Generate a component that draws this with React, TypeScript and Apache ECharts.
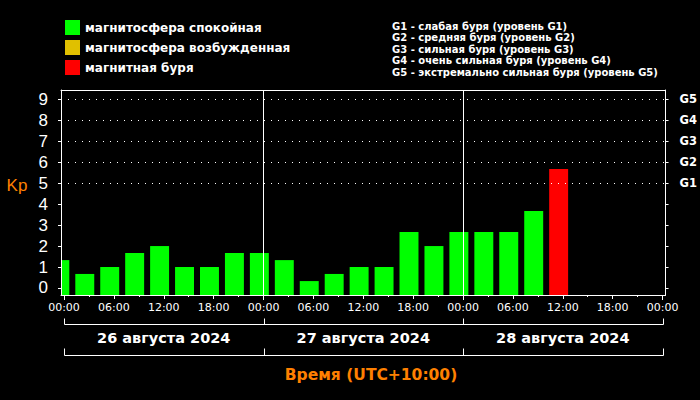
import React, { useEffect, useRef } from "react";
import * as echarts from "echarts";

// ---- data ----
const dayLabels = ["26 августа 2024", "27 августа 2024", "28 августа 2024"];
const hourTickLabels = [
  "00:00", "06:00", "12:00", "18:00",
  "00:00", "06:00", "12:00", "18:00",
  "00:00", "06:00", "12:00", "18:00",
  "00:00",
];
const kpLevelLabels = ["0", "1", "2", "3", "4", "5", "6", "7", "8", "9"];
const stormLabels = ["G1", "G2", "G3", "G4", "G5"];
const stormLegend = [
  "G1 - слабая буря (уровень G1)",
  "G2 - средняя буря (уровень G2)",
  "G3 - сильная буря (уровень G3)",
  "G4 - очень сильная буря (уровень G4)",
  "G5 - экстремально сильная буря (уровень G5)",
];
const stateLegendNames = [
  "магнитосфера спокойная",
  "магнитосфера возбужденная",
  "магнитная буря",
];
const stateColors = ["#00ff00", "#e0c000", "#ff0000"];
// bar centres, hours from 26 Aug 00:00 (UTC+10)
const barHours = [
  -0.5, 2.5, 5.5, 8.5, 11.5, 14.5, 17.5, 20.5,
  23.5, 26.5, 29.5, 32.5, 35.5, 38.5, 41.5, 44.5,
  47.5, 50.5, 53.5, 56.5, 59.5,
];
const kpValues = [
  1.33, 0.67, 1.0, 1.67, 2.0, 1.0, 1.0, 1.67,
  1.67, 1.33, 0.33, 0.67, 1.0, 1.0, 2.67, 2.0,
  2.67, 2.67, 2.67, 3.67, 5.67,
];
const dayBoundaries = [0, 24, 48, 72];
const dayCentres = [12, 36, 60];
const hourTicks6 = [0, 6, 12, 18, 24, 30, 36, 42, 48, 54, 60, 66, 72];
const hourTicks3 = [3, 9, 15, 21, 27, 33, 39, 45, 51, 57, 63, 69];
const kpTicks = [0, 1, 2, 3, 4, 5, 6, 7, 8, 9];
const stormLevels = [5, 6, 7, 8, 9];

const X_MIN = -0.36;
const X_MAX = 72.36;
const Y_MIN = -0.334;
const Y_MAX = 9.442;
const BAR_WIDTH_HOURS = 2.28;
const FONT = "DejaVu Sans";

function colorFor(kp: number) {
  if (kp >= 5) return stateColors[2];
  if (kp >= 4) return stateColors[1];
  return stateColors[0];
}

export default function App() {
  const ref = useRef<HTMLDivElement>(null);

  useEffect(() => {
    if (!ref.current) return;
    const chart = echarts.init(ref.current, null, { renderer: "svg" });

    const baseXAxis = {
      type: "value",
      min: X_MIN,
      max: X_MAX,
      splitLine: { show: false },
    };
    const whiteLine = { color: "#ffffff", width: 1 };

    const option: any = {
      animation: false,
      backgroundColor: "#000000",
      textStyle: { fontFamily: FONT },
      grid: { left: 61, top: 90, width: 606, height: 205, show: false },
      xAxis: [
        {
          ...baseXAxis,
          position: "bottom",
          axisLine: { show: true, onZero: false, lineStyle: whiteLine },
          axisTick: {
            show: true,
            length: 4,
            customValues: hourTicks6,
            lineStyle: { color: "#ffffff" },
          },
          axisLabel: {
            show: true,
            customValues: hourTicks6,
            formatter: (v: number) => hourTickLabels[Math.round(v / 6)],
            color: "#ffffff",
            fontSize: 11,
            fontFamily: FONT,
            margin: 7,
          },
        },
        {
          ...baseXAxis,
          position: "bottom",
          axisLine: { show: false, onZero: false },
          axisTick: {
            show: true,
            length: 2,
            customValues: hourTicks3,
            lineStyle: { color: "#ffffff" },
          },
          axisLabel: { show: false },
        },
        {
          ...baseXAxis,
          position: "bottom",
          axisLine: { show: false, onZero: false },
          axisTick: {
            show: true,
            length: 5,
            customValues: dayBoundaries,
            lineStyle: { color: "#ffffff" },
          },
          axisLabel: {
            show: true,
            customValues: dayCentres,
            formatter: (v: number) => dayLabels[Math.round((v - 12) / 24)],
            color: "#ffffff",
            fontSize: 14.5,
            fontWeight: "bold",
            fontFamily: FONT,
            margin: 35,
          },
        },
        {
          ...baseXAxis,
          position: "top",
          axisLine: { show: true, onZero: false, lineStyle: whiteLine },
          axisTick: { show: false },
          axisLabel: { show: false },
        },
      ],
      yAxis: [
        {
          type: "value",
          position: "left",
          min: Y_MIN,
          max: Y_MAX,
          splitLine: { show: false },
          axisLine: { show: true, onZero: false, lineStyle: whiteLine },
          axisTick: {
            show: true,
            length: 3,
            customValues: kpTicks,
            lineStyle: { color: "#ffffff" },
          },
          axisLabel: {
            show: true,
            customValues: kpTicks,
            formatter: (v: number) => kpLevelLabels[Math.round(v)],
            color: "#ffffff",
            fontSize: 17,
            fontFamily: "Liberation Sans",
            margin: 13,
          },
        },
        {
          type: "value",
          position: "right",
          min: Y_MIN,
          max: Y_MAX,
          splitLine: { show: false },
          axisLine: { show: true, onZero: false, lineStyle: whiteLine },
          axisTick: {
            show: true,
            length: 3,
            customValues: kpTicks,
            lineStyle: { color: "#ffffff" },
          },
          axisLabel: {
            show: true,
            customValues: stormLevels,
            formatter: (v: number) => stormLabels[Math.round(v) - 5],
            color: "#ffffff",
            fontSize: 11.5,
            fontWeight: "bold",
            fontFamily: FONT,
            margin: 14,
          },
        },
      ],
      series: [
        {
          type: "line",
          data: [],
          z: 1,
          xAxisIndex: 0,
          yAxisIndex: 0,
          markLine: {
            silent: true,
            symbol: ["none", "none"],
            label: { show: false },
            animation: false,
            data: [
              ...stormLevels.map((lv) => ({
                yAxis: lv,
                lineStyle: { color: "#ffffff", width: 1, type: [1, 6] },
              })),
              ...[24, 48].map((h) => ({
                xAxis: h,
                lineStyle: { color: "#ffffff", width: 1, type: "solid" },
              })),
            ],
          },
        },
        {
          type: "custom",
          z: 3,
          xAxisIndex: 0,
          yAxisIndex: 0,
          data: kpValues.map((v, i) => [barHours[i], v]),
          renderItem: (params: any, api: any) => {
            const h = api.value(0);
            const v = api.value(1);
            const top = api.coord([h, v]);
            const w = api.size([BAR_WIDTH_HOURS, 0])[0];
            const cs = params.coordSys;
            const bottom = cs.y + cs.height;
            const x0 = Math.max(top[0] - w / 2, cs.x + 1);
            const x1 = Math.min(top[0] + w / 2, cs.x + cs.width - 1);
            return {
              type: "rect",
              shape: { x: x0, y: top[1], width: x1 - x0, height: bottom - top[1] },
              style: { fill: colorFor(v) },
            };
          },
        },
      ],
      graphic: [],
    };

    chart.setOption(option);

    // decorations derived from the axis scale
    const px = (h: number) => chart.convertToPixel({ xAxisIndex: 0 }, h) as number;
    const dayPx = dayBoundaries.map(px);
    const graphics: any[] = [];
    const bracket = (y: number, tickLen: number) => {
      graphics.push({
        type: "line",
        shape: {
          x1: Math.round(dayPx[0]) + 0.5,
          y1: y,
          x2: Math.round(dayPx[dayPx.length - 1]) + 0.5,
          y2: y,
        },
        style: { stroke: "#ffffff", lineWidth: 1 },
      });
      dayPx.forEach((x) => {
        graphics.push({
          type: "line",
          shape: { x1: Math.round(x) + 0.5, y1: y - tickLen, x2: Math.round(x) + 0.5, y2: y },
          style: { stroke: "#ffffff", lineWidth: 1 },
        });
      });
    };
    bracket(324.5, 6);
    bracket(355.5, 7);

    stateLegendNames.forEach((name, i) => {
      graphics.push({
        type: "rect",
        shape: { x: 65, y: 20 + i * 20, width: 15, height: 15 },
        style: { fill: stateColors[i] },
      });
      graphics.push({
        type: "text",
        x: 85,
        y: 27.5 + i * 20,
        style: {
          text: name,
          fill: "#ffffff",
          font: `bold 12px "${FONT}"`,
          textVerticalAlign: "middle",
          verticalAlign: "middle",
        },
      });
    });

    stormLegend.forEach((t, i) => {
      graphics.push({
        type: "text",
        x: 392,
        y: 26 + i * 11.6,
        style: {
          text: t,
          fill: "#ffffff",
          font: `bold 10px "${FONT}"`,
          verticalAlign: "middle",
          textVerticalAlign: "middle",
        },
      });
    });

    graphics.push({
      type: "text",
      x: 17,
      y: 185,
      style: {
        text: "Kp",
        fill: "#ff8000",
        font: `17px "Liberation Sans"`,
        align: "center",
        textAlign: "center",
        verticalAlign: "middle",
        textVerticalAlign: "middle",
      },
    });

    graphics.push({
      type: "text",
      x: 371,
      y: 375,
      style: {
        text: "Время (UTC+10:00)",
        fill: "#ff8000",
        font: `bold 15.5px "${FONT}"`,
        align: "center",
        textAlign: "center",
        verticalAlign: "middle",
        textVerticalAlign: "middle",
      },
    });

    chart.setOption({ graphic: graphics });

    return () => chart.dispose();
  }, []);

  return (
    <div
      ref={ref}
      style={{ position: "fixed", left: 0, top: 0, width: 700, height: 400, background: "#000" }}
    />
  );
}
